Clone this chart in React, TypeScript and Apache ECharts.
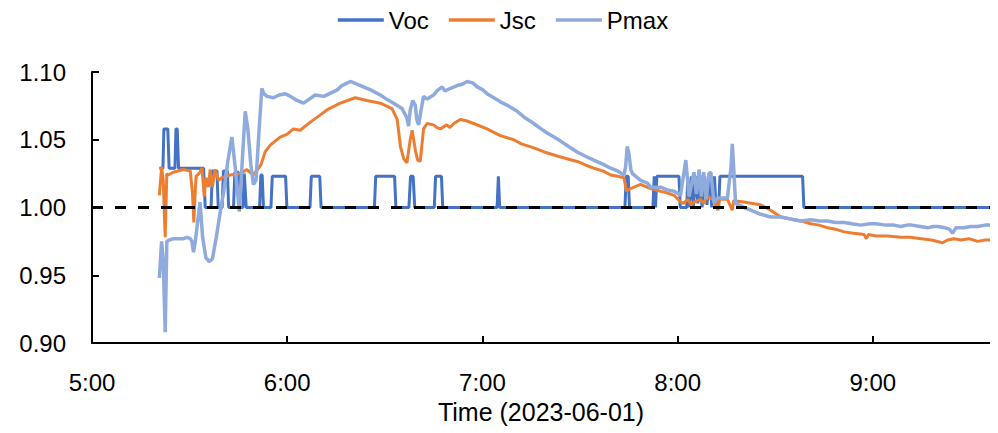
import React, { useEffect, useRef } from "react";
import * as echarts from "echarts";

// time in minutes after midnight, normalised value
const vocPoints: [number, number][] = [
  [320.7, 1.029], [321.8, 1.029], [322.1, 1.058], [323.3, 1.058], [323.7, 1.029], [325.5, 1.029],
  [325.8, 1.058], [326.2, 1.058], [326.6, 1.029], [334.3, 1.029], [334.8, 1.0], [336.6, 1.0],
  [337.0, 1.027], [338.4, 1.027], [338.8, 1.0], [340.0, 1.0], [340.4, 1.027], [341.6, 1.027],
  [342.0, 1.0], [343.5, 1.0], [343.9, 1.026], [345.0, 1.026], [345.4, 1.0], [346.4, 1.0],
  [346.8, 1.025], [347.4, 1.0], [351.5, 1.0], [351.9, 1.024], [352.3, 1.024], [352.7, 1.0],
  [355.0, 1.0], [355.4, 1.023], [359.5, 1.023], [359.9, 1.0], [367.0, 1.0], [367.4, 1.023],
  [370.0, 1.023], [370.4, 1.0], [386.8, 1.0], [387.2, 1.023], [393.0, 1.023], [393.4, 1.0],
  [397.4, 1.0], [397.9, 1.023], [398.7, 1.023], [399.2, 1.0], [405.2, 1.0], [405.6, 1.023],
  [407.4, 1.023], [407.8, 1.0], [424.5, 1.0], [424.9, 1.023], [425.3, 1.0], [463.8, 1.0],
  [464.2, 1.023], [464.8, 1.023], [465.2, 1.0], [472.4, 1.0], [472.8, 1.023], [473.2, 1.0],
  [473.6, 1.023], [480.4, 1.023], [480.8, 1.0], [482.8, 1.0], [483.1, 1.023], [483.5, 1.0],
  [484.3, 1.023], [484.8, 1.0], [485.6, 1.023], [486.2, 1.003], [487.0, 1.023], [487.5, 1.0],
  [488.3, 1.023], [489.0, 1.002], [489.8, 1.023], [490.5, 1.0], [491.3, 1.023], [491.8, 1.0],
  [492.6, 1.0], [493.0, 1.023], [518.4, 1.023], [518.8, 1.0], [576.3, 1.0],
];

const jscPoints: [number, number][] = [
  [320.7, 1.009], [321.4, 1.03], [321.9, 1.02], [322.3, 0.99], [322.5, 0.978], [323.0, 1.025],
  [323.4, 1.024], [325.0, 1.026], [328.1, 1.028], [330.2, 1.027], [330.9, 1.01], [331.3, 0.989],
  [331.8, 1.015], [332.0, 1.023], [333.2, 1.026], [333.8, 1.029], [334.5, 1.008], [335.0, 1.022],
  [335.8, 1.015], [336.3, 1.028], [337.0, 1.015], [337.8, 1.028], [338.9, 1.02], [339.9, 1.022],
  [342.5, 1.024], [345.5, 1.025], [347.6, 1.028], [349.6, 1.024], [351.2, 1.029], [352.0, 1.032],
  [353.2, 1.041], [354.8, 1.046], [357.8, 1.052], [359.9, 1.054], [361.9, 1.058], [364.0, 1.057],
  [367.1, 1.063], [370.0, 1.068], [372.2, 1.072], [376.3, 1.077], [380.9, 1.081], [384.5, 1.079],
  [388.6, 1.077], [392.2, 1.073], [393.8, 1.065], [394.8, 1.045], [395.8, 1.036], [396.8, 1.033],
  [397.8, 1.05], [398.4, 1.057], [399.4, 1.042], [400.1, 1.035], [400.9, 1.034], [401.9, 1.058],
  [403.0, 1.062], [405.0, 1.061], [406.0, 1.059], [407.1, 1.058], [409.0, 1.061], [410.0, 1.059],
  [411.2, 1.062], [413.2, 1.065], [415.0, 1.064], [417.3, 1.062], [421.4, 1.058], [425.5, 1.053],
  [429.6, 1.05], [432.0, 1.047], [435.8, 1.044], [439.0, 1.041], [443.0, 1.038], [446.0, 1.036],
  [449.1, 1.034], [452.0, 1.031], [454.2, 1.029], [457.0, 1.027], [459.4, 1.024], [461.5, 1.023],
  [463.5, 1.022], [464.3, 1.012], [465.5, 1.014], [468.6, 1.017], [471.7, 1.014], [474.8, 1.012],
  [476.5, 1.011], [478.9, 1.009], [480.9, 1.004], [481.8, 1.003], [483.1, 1.006], [484.2, 1.002],
  [485.0, 1.004], [487.1, 1.006], [488.0, 1.003], [489.1, 1.008], [491.0, 1.006], [492.4, 0.998],
  [492.8, 1.006], [495.3, 1.006], [496.8, 0.998], [497.2, 1.005], [500.4, 1.004], [503.0, 1.003],
  [505.5, 1.002], [508.6, 0.998], [511.7, 0.993], [513.5, 0.992], [515.8, 0.991], [518.0, 0.99],
  [520.9, 0.988], [523.5, 0.987], [526.1, 0.985], [528.5, 0.984], [531.2, 0.982], [534.0, 0.981],
  [537.3, 0.98], [538.0, 0.977], [538.6, 0.98], [541.0, 0.979], [544.5, 0.979], [548.6, 0.978],
  [551.5, 0.978], [554.8, 0.977], [558.0, 0.976], [561.4, 0.974], [563.0, 0.976], [565.0, 0.977],
  [567.1, 0.976], [569.5, 0.977], [572.2, 0.975], [574.5, 0.976], [576.3, 0.976],
];

const pmaxPoints: [number, number][] = [
  [320.7, 0.948], [321.4, 0.975], [321.9, 0.96], [322.5, 0.908], [323.0, 0.975], [323.8, 0.976],
  [325.0, 0.977], [328.1, 0.977], [329.2, 0.978], [330.2, 0.977], [330.7, 0.975], [331.2, 0.967],
  [331.7, 0.974], [332.5, 0.99], [333.2, 1.004], [334.0, 0.978], [335.0, 0.963], [336.0, 0.96],
  [337.0, 0.962], [338.2, 0.978], [339.3, 0.995], [340.5, 1.012], [341.8, 1.035], [343.0, 1.052],
  [344.0, 1.03], [345.3, 0.997], [346.2, 1.035], [347.1, 1.071], [347.9, 1.058], [348.8, 1.032],
  [349.6, 1.017], [350.4, 1.02], [351.3, 1.055], [352.2, 1.088], [352.8, 1.084], [353.8, 1.082],
  [355.8, 1.081], [357.5, 1.083], [359.4, 1.084], [361.0, 1.082], [363.0, 1.079], [365.0, 1.077],
  [366.8, 1.08], [368.6, 1.083], [371.2, 1.082], [373.8, 1.085], [375.5, 1.087], [376.8, 1.09],
  [379.4, 1.093], [382.5, 1.09], [385.5, 1.087], [388.6, 1.083], [390.5, 1.08], [392.7, 1.077],
  [395.3, 1.073], [396.8, 1.066], [397.3, 1.06], [397.8, 1.072], [398.6, 1.079], [399.4, 1.075],
  [399.8, 1.065], [400.4, 1.061], [401.0, 1.07], [401.9, 1.082], [403.0, 1.08], [405.0, 1.083],
  [406.0, 1.086], [407.6, 1.089], [408.5, 1.086], [410.2, 1.088], [412.2, 1.09], [413.8, 1.091],
  [415.3, 1.093], [417.0, 1.092], [418.4, 1.089], [420.0, 1.087], [421.4, 1.084], [423.5, 1.081],
  [425.5, 1.078], [428.0, 1.075], [430.7, 1.071], [433.2, 1.066], [435.8, 1.062], [438.0, 1.058],
  [439.9, 1.055], [442.0, 1.052], [444.0, 1.049], [446.5, 1.045], [449.1, 1.041], [451.5, 1.038],
  [454.2, 1.035], [457.0, 1.032], [459.4, 1.029], [461.5, 1.027], [463.5, 1.024], [464.0, 1.03],
  [464.5, 1.045], [465.0, 1.04], [465.6, 1.028], [466.1, 1.025], [468.6, 1.02], [470.7, 1.018],
  [471.7, 1.015], [474.8, 1.015], [476.8, 1.013], [478.9, 1.012], [480.9, 1.009], [482.5, 1.035],
  [483.5, 1.008], [485.0, 1.026], [485.8, 1.01], [486.6, 1.028], [487.3, 1.008], [488.0, 1.026],
  [488.8, 1.006], [489.6, 1.025], [490.2, 1.026], [491.2, 1.003], [492.2, 1.007], [495.3, 1.007],
  [496.4, 1.03], [496.8, 1.047], [497.2, 1.03], [497.8, 1.003], [500.4, 1.0], [502.5, 0.998],
  [505.5, 0.995], [508.6, 0.993], [511.7, 0.993], [513.8, 0.992], [515.8, 0.991], [517.8, 0.99],
  [521.0, 0.991], [523.5, 0.99], [526.1, 0.99], [528.5, 0.989], [531.2, 0.989], [533.5, 0.988],
  [536.3, 0.987], [539.0, 0.988], [541.0, 0.988], [544.0, 0.987], [546.5, 0.987], [548.6, 0.986],
  [550.5, 0.987], [552.0, 0.987], [554.5, 0.986], [556.8, 0.985], [558.5, 0.986], [560.0, 0.986],
  [562.2, 0.985], [563.5, 0.984], [564.5, 0.981], [565.5, 0.985], [568.0, 0.985], [570.0, 0.986],
  [572.2, 0.986], [574.5, 0.987], [576.3, 0.987],
];

const referencePoints: [number, number][] = [[300, 1.0], [576, 1.0]];

const xTickValues = [300, 360, 420, 480, 540];
const seriesNames = ["Voc", "Jsc", "Pmax"];
const xAxisTitle = "Time (2023-06-01)";

const FONT = "'Liberation Sans', Arial, sans-serif";

export default function App() {
  const ref = useRef<HTMLDivElement>(null);
  useEffect(() => {
    if (!ref.current) return;
    const chart = echarts.init(ref.current, undefined, { renderer: "svg" });
    const fmtTime = (v: number) => {
      const h = Math.floor(v / 60);
      const m = Math.round(v - h * 60);
      return `${h}:${m < 10 ? "0" + m : m}`;
    };
    const colors = ["#4472C4", "#ED7D31", "#8FAADC"];
    chart.setOption({
      animation: false,
      textStyle: { fontFamily: FONT },
      color: colors,
      legend: {
        data: seriesNames,
        top: 0,
        padding: 0,
        left: "center",
        icon: "rect",
        itemWidth: 46,
        itemHeight: 3.5,
        itemGap: 20,
        textStyle: { fontSize: 24, lineHeight: 22, color: "#000", fontFamily: FONT },
      },
      grid: { left: 84, right: 8, top: 64, bottom: 90, containLabel: false },
      xAxis: {
        type: "value",
        min: 300,
        max: 576,
        interval: 60,
        name: xAxisTitle,
        nameLocation: "middle",
        nameGap: 56,
        nameTextStyle: { fontSize: 25, color: "#000", fontFamily: FONT },
        axisLine: { show: true, onZero: false, lineStyle: { color: "#000", width: 2 } },
        axisTick: { show: true, inside: true, length: 7, customValues: xTickValues, lineStyle: { color: "#000", width: 2 } },
        axisLabel: { customValues: xTickValues, formatter: fmtTime, fontSize: 24, color: "#000", margin: 27, fontFamily: FONT },
        splitLine: { show: false },
      },
      yAxis: {
        type: "value",
        min: 0.9,
        max: 1.1,
        interval: 0.05,
        axisLine: { show: true, lineStyle: { color: "#000", width: 2 } },
        axisTick: { show: true, inside: true, length: 7, lineStyle: { color: "#000", width: 2 } },
        axisLabel: { formatter: (v: number) => v.toFixed(2), fontSize: 24, color: "#000", margin: 26, fontFamily: FONT },
        splitLine: { show: false },
      },
      series: [
        { name: "Voc", type: "line", data: vocPoints, showSymbol: false, symbol: "none", lineStyle: { width: 3, color: colors[0] } },
        { name: "Jsc", type: "line", data: jscPoints, showSymbol: false, symbol: "none", lineStyle: { width: 3, color: colors[1] } },
        { name: "Pmax", type: "line", data: pmaxPoints, showSymbol: false, symbol: "none", lineStyle: { width: 3.5, color: colors[2] } },
        {
          name: "ref",
          type: "line",
          data: referencePoints,
          showSymbol: false,
          symbol: "none",
          silent: true,
          lineStyle: { width: 3, color: "#000", type: [11, 12] },
        },
      ],
    });
    return () => chart.dispose();
  }, []);
  return <div ref={ref} style={{ width: 990, height: 425 }} />;
}
